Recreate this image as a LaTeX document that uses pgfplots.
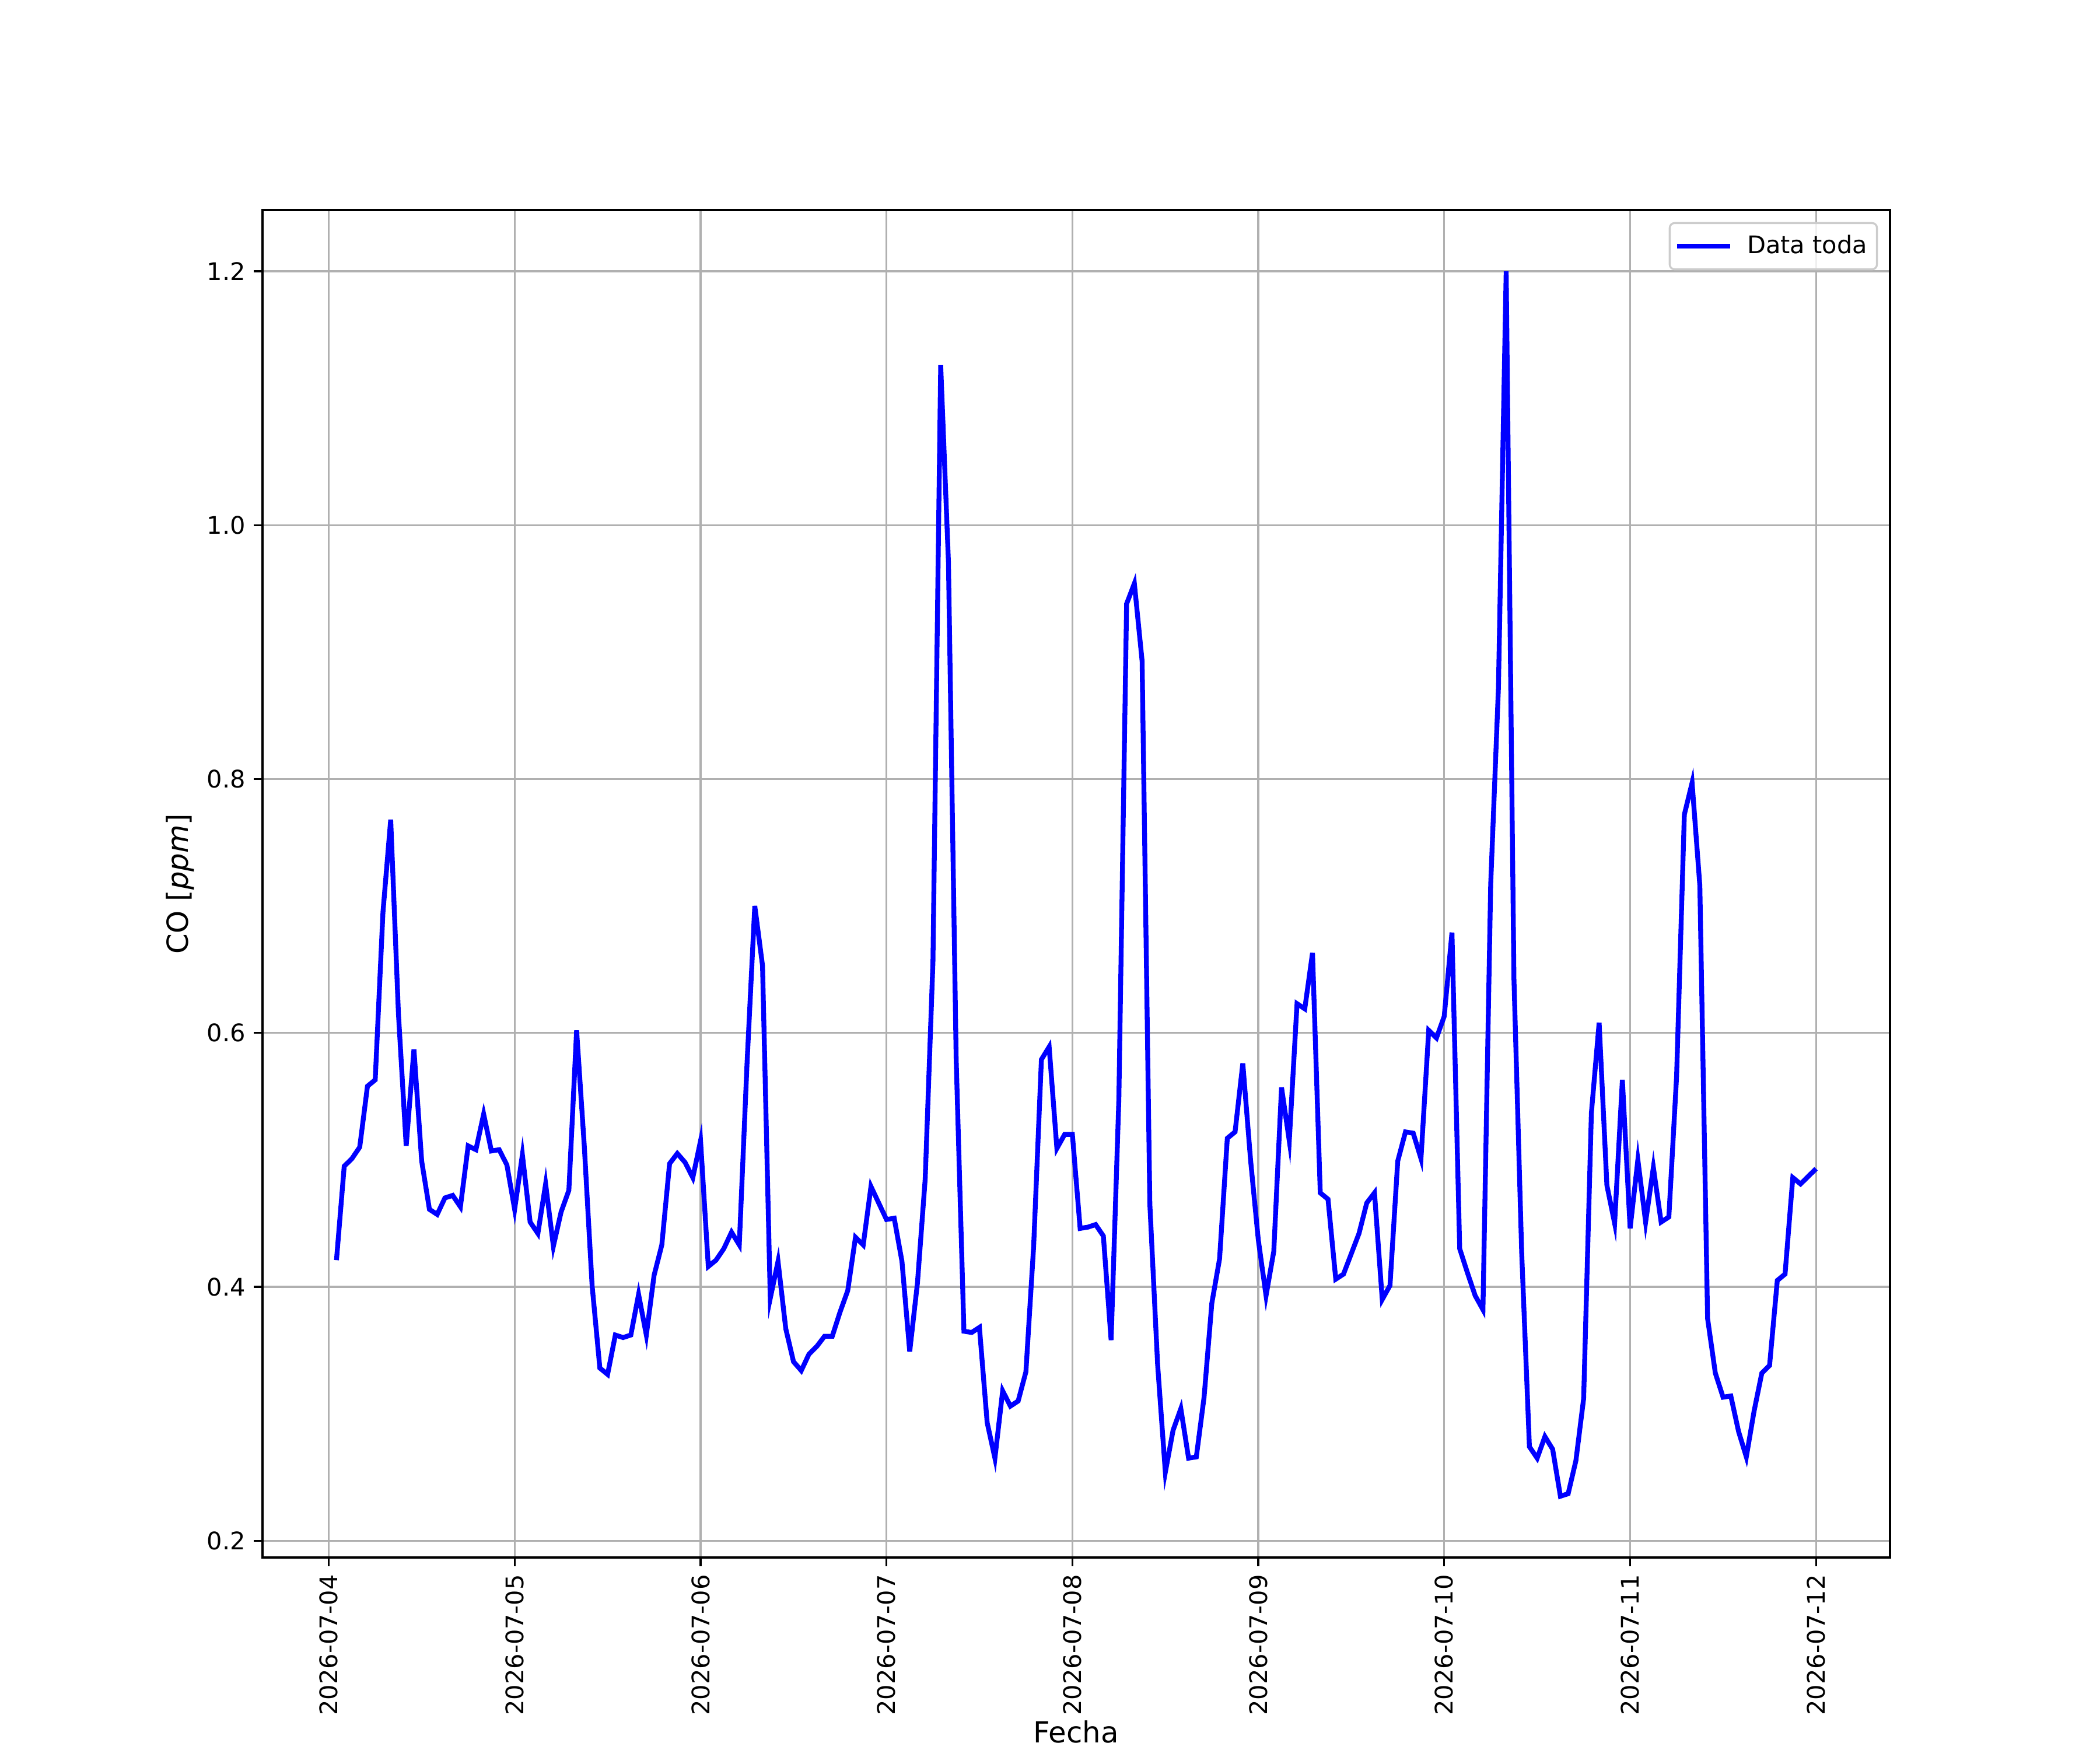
\documentclass[border=0pt]{standalone}
\usepackage{fontspec}
\setmainfont{DejaVu Sans}
\usepackage{pgfplots}
\usepackage{pgfplotstable}
\pgfplotsset{compat=1.18}
\definecolor{mplgrid}{RGB}{176,176,176}
\definecolor{legedge}{RGB}{204,204,204}

\pgfplotstableread{
h v
1 0.421
2 0.495
3 0.501
4 0.510
5 0.558
6 0.563
7 0.695
8 0.768
9 0.615
10 0.511
11 0.587
12 0.499
13 0.461
14 0.457
15 0.470
16 0.472
17 0.463
18 0.511
19 0.508
20 0.536
21 0.507
22 0.508
23 0.496
24 0.461
25 0.504
26 0.451
27 0.442
28 0.481
29 0.432
30 0.459
31 0.476
32 0.602
33 0.510
34 0.401
35 0.336
36 0.331
37 0.362
38 0.360
39 0.362
40 0.394
41 0.362
42 0.409
43 0.433
44 0.497
45 0.505
46 0.498
47 0.486
48 0.515
49 0.416
50 0.421
51 0.430
52 0.443
53 0.433
54 0.576
55 0.700
56 0.653
57 0.391
58 0.420
59 0.367
60 0.341
61 0.334
62 0.347
63 0.353
64 0.361
65 0.361
66 0.380
67 0.397
68 0.439
69 0.433
70 0.479
71 0.466
72 0.453
73 0.454
74 0.420
75 0.349
76 0.403
77 0.485
78 0.656
79 1.126
80 0.971
81 0.579
82 0.365
83 0.364
84 0.368
85 0.293
86 0.265
87 0.318
88 0.306
89 0.310
90 0.333
91 0.432
92 0.579
93 0.589
94 0.509
95 0.520
96 0.520
97 0.446
98 0.447
99 0.449
100 0.440
101 0.358
102 0.548
103 0.938
104 0.954
105 0.893
106 0.465
107 0.339
108 0.254
109 0.287
110 0.304
111 0.265
112 0.266
113 0.313
114 0.387
115 0.422
116 0.517
117 0.522
118 0.576
119 0.500
120 0.437
121 0.393
122 0.428
123 0.557
124 0.515
125 0.623
126 0.619
127 0.663
128 0.474
129 0.469
130 0.406
131 0.410
132 0.426
133 0.442
134 0.466
135 0.474
136 0.390
137 0.401
138 0.499
139 0.522
140 0.521
141 0.501
142 0.602
143 0.596
144 0.613
145 0.679
146 0.430
147 0.411
148 0.393
149 0.382
150 0.717
151 0.872
152 1.200
153 0.643
154 0.427
155 0.274
156 0.265
157 0.282
158 0.272
159 0.235
160 0.237
161 0.263
162 0.312
163 0.537
164 0.608
165 0.480
166 0.450
167 0.563
168 0.446
169 0.500
170 0.451
171 0.494
172 0.451
173 0.455
174 0.566
175 0.772
176 0.797
177 0.716
178 0.375
179 0.332
180 0.313
181 0.314
182 0.286
183 0.266
184 0.302
185 0.332
186 0.338
187 0.405
188 0.410
189 0.486
190 0.481
191 0.487
192 0.493
}\codata

\begin{document}
\begin{tikzpicture}
\path[use as bounding box] (-1.5in,-1.1in) rectangle (10.5in,8.9in);
\begin{axis}[
  at={(0,0)}, anchor=south west,
  scale only axis,
  width=9.3in, height=7.7in,
  xmin=-8.55, xmax=201.55,
  ymin=0.18675, ymax=1.24825,
  xtick={0,24,48,72,96,120,144,168,192},
  xticklabels={2026-07-04,2026-07-05,2026-07-06,2026-07-07,2026-07-08,2026-07-09,2026-07-10,2026-07-11,2026-07-12},
  ytick={0.2,0.4,0.6,0.8,1.0,1.2},
  yticklabels={0.2,0.4,0.6,0.8,1.0,1.2},
  /pgf/number format/assume math mode=true,
  tick pos=left,
  tick align=outside,
  major tick length=3.5pt,
  every tick/.style={black, line width=0.8pt},
  axis line style={black, line width=0.8pt},
  grid=major,
  major grid style={mplgrid, line width=0.8pt},
  xticklabel style={rotate=90, anchor=east, font=\fontsize{10}{12}\selectfont},
  yticklabel style={font=\fontsize{10}{12}\selectfont},
  xlabel={Fecha},
  ylabel={CO [\textit{ppm}]},
  xlabel style={font=\fontsize{12}{14}\selectfont, at={([yshift=-76.5pt]axis description cs:0.5,0)}, anchor=base, inner sep=0pt},
  ylabel style={font=\fontsize{12}{14}\selectfont, at={([xshift=-34pt]axis description cs:0,0.5)}, anchor=center},
  legend style={at={(1,1)}, xshift=-5pt, yshift=-5pt, anchor=north east,
    draw=legedge, line width=0.8pt, rounded corners=2pt, fill=white, fill opacity=0.8, text opacity=1,
    font=\fontsize{10}{12}\selectfont, inner xsep=2pt, inner ysep=3pt},
  legend cell align=left,
  legend image code/.code={\draw[#1] (0pt,0pt) -- (22pt,0pt); \path (26pt,0pt);},
]
\addplot[blue, line width=2pt, line join=miter] table[x=h, y=v] {\codata};
\addlegendentry{Data toda}
\end{axis}
\end{tikzpicture}
\end{document}
